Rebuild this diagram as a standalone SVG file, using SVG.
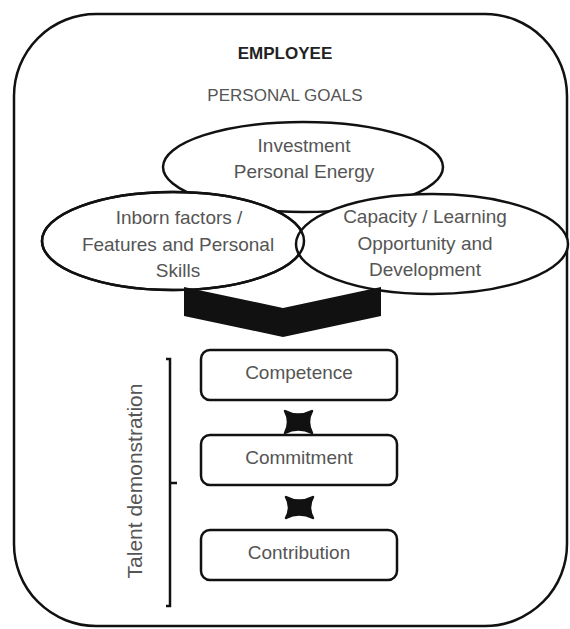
<svg xmlns="http://www.w3.org/2000/svg" width="570" height="629" viewBox="0 0 570 629">
<style>
.t{font-family:"Liberation Sans",Arial,sans-serif;font-size:19px;fill:#555;text-anchor:middle}
.c{font-size:17px}
.b{font-weight:bold;fill:#222}
.sh{fill:#fff;stroke:#111;stroke-width:2.5}
.ol{fill:none;stroke:#111;stroke-width:2.5}
.box{fill:#fff;stroke:#111;stroke-width:2.5}
.bt{fill:#111;stroke:#111;stroke-width:2.5;stroke-linejoin:round}
</style>
<rect width="570" height="629" fill="#fff"/>
<g id="employee">
<rect x="14" y="14" width="553" height="612" rx="82" ry="82" fill="#fff" stroke="#111" stroke-width="2.5"/>
<text class="t c b" x="285" y="59">EMPLOYEE</text>
<text class="t c" x="285" y="101">PERSONAL GOALS</text>
</g>
<g id="investment">
<ellipse class="sh" cx="303" cy="167" rx="140" ry="45"/>
<text class="t" x="304" y="152">Investment</text>
<text class="t" x="304" y="178">Personal Energy</text>
</g>
<g id="inborn">
<ellipse class="sh" cx="173" cy="241" rx="131" ry="49"/>
</g>
<g id="capacity">
<ellipse class="sh" cx="432" cy="244" rx="136" ry="50"/>
<ellipse class="ol" cx="173" cy="241" rx="131" ry="49"/>
<text class="t" x="425" y="223">Capacity / Learning</text>
<text class="t" x="425" y="250">Opportunity and</text>
<text class="t" x="425" y="276">Development</text>
<text class="t" x="179" y="224">Inborn factors /</text>
<text class="t" x="178" y="251">Features and Personal</text>
<text class="t" x="178" y="277">Skills</text>
</g>
<g id="connectors">
<polygon points="184,287 283,308 381,287 381,316 283,337 184,316" fill="#111"/>
<path class="bt" d="M285,411 Q298,418 312,411 Q306,422 312,433 Q298,426 285,433 Q291,422 285,411 Z"/>
<path class="bt" d="M286,497 Q299,504 313,497 Q307,507.5 313,518 Q299,511 286,518 Q292,507.5 286,497 Z"/>
<path d="M166,359 L170,359 L170,606 L166,606 M170,483 L177,483" fill="none" stroke="#111" stroke-width="2.5"/>
</g>
<g id="competence">
<rect class="box" x="201" y="350" width="196" height="50" rx="9"/>
<text class="t" x="299" y="379">Competence</text>
</g>
<g id="commitment">
<rect class="box" x="201" y="435" width="196" height="50" rx="9"/>
<text class="t" x="299" y="464">Commitment</text>
</g>
<g id="contribution">
<rect class="box" x="201" y="530" width="196" height="50" rx="9"/>
<text class="t" x="299" y="559">Contribution</text>
</g>
<g id="talent-label">
<text class="t" style="font-size:21px" transform="translate(142,481) rotate(-90)">Talent demonstration</text>
</g>
</svg>
